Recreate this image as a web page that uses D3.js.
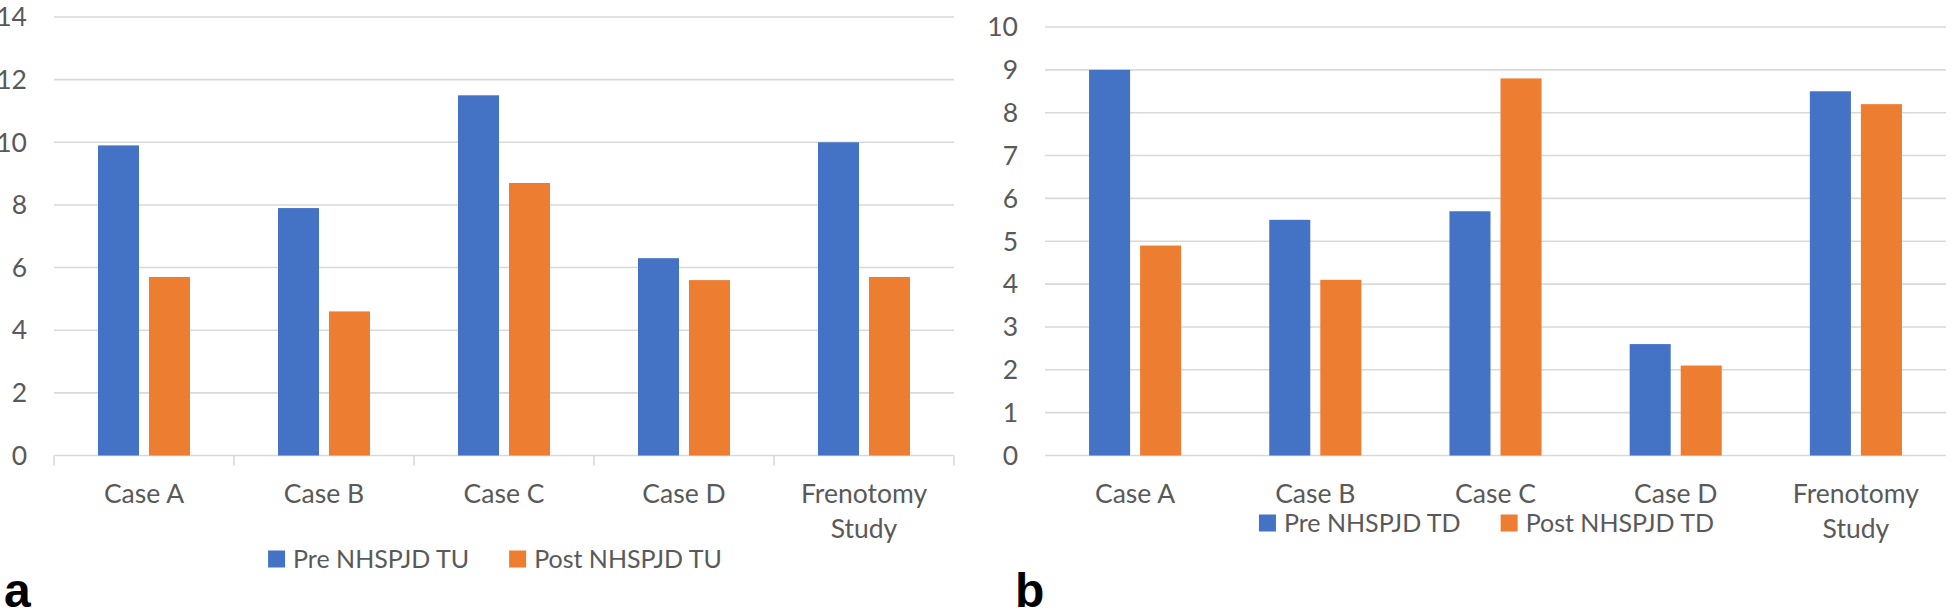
<!DOCTYPE html>
<html>
<head>
<meta charset="utf-8">
<script src="https://cdn.jsdelivr.net/npm/d3@7"></script>
<style>
  html, body { margin: 0; padding: 0; background: #ffffff; }
  svg { display: block; }
  text { font-family: Lato, "Open Sans", sans-serif; fill: #595959; }
</style>
</head>
<body>
<svg id="chart" width="1952" height="612"></svg>
<script>
// ---------- data ----------
const categories = ["Case A", "Case B", "Case C", "Case D", "Frenotomy Study"];

const seriesNamesA = ["Pre NHSPJD TU", "Post NHSPJD TU"];
const preTU  = [9.9, 7.9, 11.5, 6.3, 10.0];
const postTU = [5.7, 4.6, 8.7, 5.6, 5.7];
const yTicksA = [0, 2, 4, 6, 8, 10, 12, 14];

const seriesNamesB = ["Pre NHSPJD TD", "Post NHSPJD TD"];
const preTD  = [9.0, 5.5, 5.7, 2.6, 8.5];
const postTD = [4.9, 4.1, 8.8, 2.1, 8.2];
const yTicksB = [0, 1, 2, 3, 4, 5, 6, 7, 8, 9, 10];

const panelLabels = ["a", "b"];

const colors = ["#4472C4", "#ED7D31"];

// ---------- drawing ----------
const svg = d3.select("#chart");
const FS = 26.5;     // axis text
const FS_LEG = 25;   // legend text

function wrapLabel(textSel, maxWidth) {
  textSel.each(function () {
    const t = d3.select(this);
    const words = t.text().split(/\s+/);
    const x = t.attr("x");
    t.text(null);
    let line = [];
    let tspan = t.append("tspan").attr("x", x).attr("dy", 0);
    words.forEach(w => {
      line.push(w);
      tspan.text(line.join(" "));
      if (tspan.node().getComputedTextLength() > maxWidth && line.length > 1) {
        line.pop();
        tspan.text(line.join(" "));
        line = [w];
        tspan = t.append("tspan").attr("x", x).attr("dy", 35).text(w);
      }
    });
  });
}

function drawPanel(opts) {
  const { left, right, top, bottom, yMax, yTicks, pre, post, names,
          labelRight, showTicks, legendBaseline, panelLabel, panelX } = opts;
  const g = svg.append("g");

  const x0 = d3.scaleBand().domain(categories).range([left, right]).paddingInner(0).paddingOuter(0);
  const x1 = d3.scaleBand().domain(names).range([0, x0.bandwidth()])
    .paddingInner(0.196).paddingOuter(0.863);
  const y = d3.scaleLinear().domain([0, yMax]).range([bottom, top]);

  // gridlines
  g.append("g").selectAll("line").data(yTicks).join("line")
    .attr("x1", left).attr("x2", right)
    .attr("y1", d => y(d)).attr("y2", d => y(d))
    .attr("stroke", "#d9d9d9").attr("stroke-width", 1.6);

  // y labels
  g.append("g").selectAll("text").data(yTicks).join("text")
    .attr("x", labelRight).attr("y", d => y(d)).attr("dy", "0.35em")
    .attr("text-anchor", "end").attr("font-size", FS)
    .text(d => d);

  // category tick marks
  if (showTicks) {
    const edges = categories.map(c => x0(c)).concat([right]);
    g.append("g").selectAll("line").data(edges).join("line")
      .attr("x1", d => d).attr("x2", d => d)
      .attr("y1", bottom).attr("y2", bottom + 10)
      .attr("stroke", "#d9d9d9").attr("stroke-width", 1.6);
  }

  // bars
  const rows = categories.map((c, i) => ({ cat: c, vals: [pre[i], post[i]] }));
  const grp = g.append("g").selectAll("g").data(rows).join("g")
    .attr("transform", d => `translate(${x0(d.cat)},0)`);
  grp.selectAll("rect").data(d => d.vals.map((v, k) => ({ name: names[k], v, k })))
    .join("rect")
    .attr("x", d => x1(d.name))
    .attr("width", x1.bandwidth())
    .attr("y", d => y(d.v))
    .attr("height", d => y(0) - y(d.v))
    .attr("fill", d => colors[d.k]);

  // category labels
  g.append("g").selectAll("text").data(categories).join("text")
    .attr("x", d => x0(d) + x0.bandwidth() / 2)
    .attr("y", bottom + 47.5)
    .attr("text-anchor", "middle").attr("font-size", FS)
    .text(d => d)
    .call(wrapLabel, x0.bandwidth() - 30);

  // legend
  const leg = g.append("g");
  const sq = 17;
  let cx = 0;
  names.forEach((n, k) => {
    const item = leg.append("g").attr("transform", `translate(${cx},0)`);
    item.append("rect").attr("x", 0).attr("y", -sq - 0.5).attr("width", sq).attr("height", sq)
      .attr("fill", colors[k]);
    const t = item.append("text").attr("x", sq + 8).attr("y", 0)
      .attr("font-size", FS_LEG).text(n);
    cx += sq + 8 + t.node().getComputedTextLength() + 40;
  });
  const legW = cx - 40;
  const center = (left + right) / 2 - 9;
  leg.attr("transform", `translate(${center - legW / 2},${legendBaseline})`);

  // panel label
  svg.append("text").attr("x", panelX).attr("y", 607)
    .style("font-family", "'Liberation Sans', Arial, sans-serif")
    .style("font-weight", "bold").style("fill", "#000")
    .attr("font-size", 48).text(panelLabel);
}

drawPanel({
  left: 54, right: 954, top: 17, bottom: 455.5, yMax: 14, yTicks: yTicksA,
  pre: preTU, post: postTU, names: seriesNamesA, labelRight: 27,
  showTicks: true, legendBaseline: 568, panelLabel: panelLabels[0], panelX: 4
});

drawPanel({
  left: 1045, right: 1946, top: 27, bottom: 455.5, yMax: 10, yTicks: yTicksB,
  pre: preTD, post: postTD, names: seriesNamesB, labelRight: 1018,
  showTicks: false, legendBaseline: 532, panelLabel: panelLabels[1], panelX: 1015
});
</script>
</body>
</html>
